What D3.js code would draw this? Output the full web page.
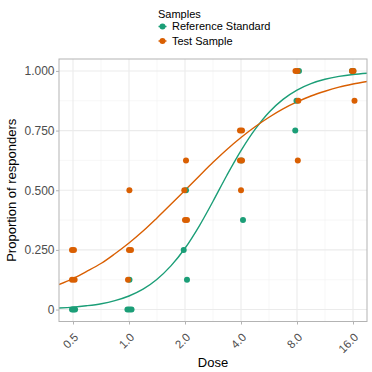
<!DOCTYPE html>
<html>
<head>
<meta charset="utf-8">
<script src="https://cdn.jsdelivr.net/npm/d3@7"></script>
<style>
  body { margin: 0; background: #fff; }
  text { font-family: "Liberation Sans", Arial, sans-serif; }
</style>
</head>
<body>
<svg id="chart" width="372" height="372"></svg>
<script>
// samples + colours
const samples = ["Reference Standard", "Test Sample"];
const sampleColors = ["#1B9E77", "#D95F02"];

// observed points (dose already includes the small horizontal jitter)
const refDose = [0.494, 0.503, 0.513, 0.981, 1.006, 1.032, 1.006, 1.968, 2.05, 2.025, 4.02, 4.1, 7.83, 7.95, 8.2, 16.06, 15.8];
const refProp = [0, 0, 0, 0, 0, 0, 0.125, 0.25, 0.125, 0.5, 0.625, 0.375, 0.75, 0.875, 1, 1, 1];

const testDose = [0.494, 0.506, 0.494, 0.51, 1.005, 1.0, 1.025, 0.988, 2.025, 1.983, 2.0, 2.05, 3.95, 4.05, 3.95, 4.05, 4.0, 7.85, 8.05, 8.13, 8.08, 15.8, 16.1, 16.3];
const testProp = [0.25, 0.25, 0.125, 0.125, 0.5, 0.25, 0.25, 0.125, 0.625, 0.5, 0.375, 0.375, 0.75, 0.75, 0.625, 0.625, 0.5, 1, 1, 0.875, 0.625, 1, 1, 0.875];

// fitted curves
const curveDose = [0.42, 0.5, 0.59, 0.71, 0.84, 1, 1.19, 1.41, 1.68, 2, 2.38, 2.83, 3.36, 4, 4.76, 5.66, 6.73, 8, 9.51, 11.31, 13.45, 16, 19.03];
const refFit = [0.0067, 0.0103, 0.0159, 0.0245, 0.0374, 0.0568, 0.0853, 0.126, 0.183, 0.257, 0.349, 0.454, 0.563, 0.666, 0.755, 0.827, 0.881, 0.920, 0.947, 0.965, 0.977, 0.985, 0.990];
const testFit = [0.105, 0.130, 0.159, 0.194, 0.234, 0.279, 0.329, 0.383, 0.441, 0.5, 0.559, 0.617, 0.671, 0.721, 0.766, 0.806, 0.841, 0.870, 0.895, 0.915, 0.932, 0.945, 0.956];

const xTicks = [0.5, 1, 2, 4, 8, 16];
const yTicks = [0, 0.25, 0.5, 0.75, 1];
const xMinor = [0.707, 1.414, 2.828, 5.657, 11.314];
const yMinor = [0.125, 0.375, 0.625, 0.875];

const svg = d3.select("#chart");
const panel = { left: 59, top: 59, right: 367, bottom: 321.5 };

svg.append("rect").attr("width", 372).attr("height", 372).attr("fill", "white");

const x = d3.scaleLog().base(2)
  .domain([Math.pow(2, -1.25), Math.pow(2, 4.25)])
  .range([panel.left, panel.right]);
const y = d3.scaleLinear()
  .domain([-0.05, 1.05])
  .range([panel.bottom, panel.top]);

const color = d3.scaleOrdinal().domain(samples).range(sampleColors);

// grid
const grid = svg.append("g");
grid.selectAll(".xminor").data(xMinor).enter().append("line")
  .attr("x1", d => x(d)).attr("x2", d => x(d))
  .attr("y1", panel.top).attr("y2", panel.bottom)
  .attr("stroke", "#F2F2F2").attr("stroke-width", 0.6);
grid.selectAll(".yminor").data(yMinor).enter().append("line")
  .attr("y1", d => y(d)).attr("y2", d => y(d))
  .attr("x1", panel.left).attr("x2", panel.right)
  .attr("stroke", "#F2F2F2").attr("stroke-width", 0.6);
grid.selectAll(".xmajor").data(xTicks).enter().append("line")
  .attr("x1", d => x(d)).attr("x2", d => x(d))
  .attr("y1", panel.top).attr("y2", panel.bottom)
  .attr("stroke", "#EBEBEB").attr("stroke-width", 1.1);
grid.selectAll(".ymajor").data(yTicks).enter().append("line")
  .attr("y1", d => y(d)).attr("y2", d => y(d))
  .attr("x1", panel.left).attr("x2", panel.right)
  .attr("stroke", "#EBEBEB").attr("stroke-width", 1.1);

// fitted lines
const line = d3.line()
  .x(d => x(d[0])).y(d => y(d[1]))
  .curve(d3.curveCatmullRom);

svg.append("clipPath").attr("id", "clip")
  .append("rect")
  .attr("x", panel.left).attr("y", panel.top)
  .attr("width", panel.right - panel.left).attr("height", panel.bottom - panel.top);

const fits = [
  { s: samples[0], pts: d3.zip(curveDose, refFit) },
  { s: samples[1], pts: d3.zip(curveDose, testFit) }
];
svg.append("g").attr("clip-path", "url(#clip)")
  .selectAll("path").data(fits).enter().append("path")
  .attr("d", d => line(d.pts))
  .attr("fill", "none")
  .attr("stroke", d => color(d.s))
  .attr("stroke-width", 1.4);

// points
const points = [
  ...refDose.map((d, i) => ({ s: samples[0], dose: d, p: refProp[i] })),
  ...testDose.map((d, i) => ({ s: samples[1], dose: d, p: testProp[i] }))
];
svg.append("g").selectAll("circle").data(points).enter().append("circle")
  .attr("cx", d => x(d.dose))
  .attr("cy", d => y(d.p))
  .attr("r", 3)
  .attr("fill", d => color(d.s));

// panel border
svg.append("rect")
  .attr("x", panel.left).attr("y", panel.top)
  .attr("width", panel.right - panel.left).attr("height", panel.bottom - panel.top)
  .attr("fill", "none").attr("stroke", "#B3B3B3").attr("stroke-width", 1);

// axes
const yAxis = svg.append("g")
  .attr("transform", `translate(${panel.left},0)`)
  .call(d3.axisLeft(y).tickValues(yTicks)
    .tickFormat(d => d === 0 ? "0" : d3.format(".3f")(d))
    .tickSize(3).tickPadding(1.5));
yAxis.select(".domain").remove();
yAxis.selectAll("line").attr("stroke", "#B3B3B3");
yAxis.selectAll("text").attr("fill", "#4D4D4D").style("font-size", "12px")
  .style("font-family", "Liberation Sans, Arial, sans-serif");

const xAxis = svg.append("g")
  .attr("transform", `translate(0,${panel.bottom})`)
  .call(d3.axisBottom(x).tickValues(xTicks)
    .tickFormat(d3.format(".1f"))
    .tickSize(3));
xAxis.select(".domain").remove();
xAxis.selectAll("line").attr("stroke", "#B3B3B3");
xAxis.selectAll("text")
  .attr("fill", "#4D4D4D").style("font-size", "11.5px")
  .style("font-family", "Liberation Sans, Arial, sans-serif")
  .attr("text-anchor", "end")
  .attr("x", 0).attr("y", 0).attr("dy", 0)
  .attr("transform", "translate(5.5,16.5) rotate(-45)");

// axis titles
svg.append("text")
  .attr("x", (panel.left + panel.right) / 2).attr("y", 367)
  .attr("text-anchor", "middle").style("font-size", "13px")
  .text("Dose");
svg.append("text")
  .attr("transform", `translate(16,${(panel.top + panel.bottom) / 2}) rotate(-90)`)
  .attr("text-anchor", "middle").style("font-size", "13px")
  .text("Proportion of responders");

// legend
const legend = svg.append("g").attr("transform", "translate(158,0)");
legend.append("text").attr("x", 0).attr("y", 18)
  .style("font-size", "11px").text("Samples");
const items = legend.selectAll(".item").data(samples).enter().append("g")
  .attr("transform", (d, i) => `translate(0,${26.5 + i * 14.5})`);
items.append("line")
  .attr("x1", 0.5).attr("x2", 8.5)
  .attr("stroke", d => color(d)).attr("stroke-width", 1.4);
items.append("circle").attr("cx", 4.5).attr("r", 3).attr("fill", d => color(d));
items.append("text").attr("x", 14).attr("dy", "0.35em")
  .style("font-size", "11px").text(d => d);
</script>
</body>
</html>
